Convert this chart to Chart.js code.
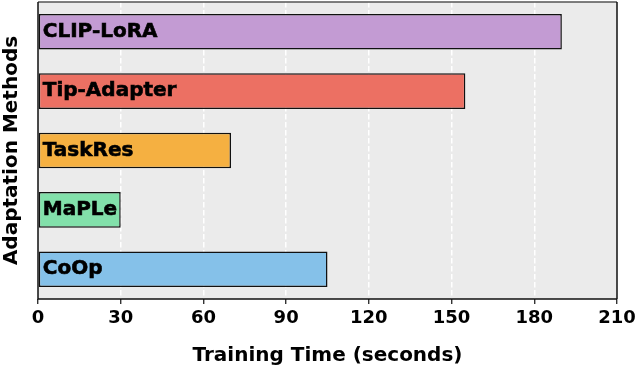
<!DOCTYPE html>
<html>
<head>
<meta charset="utf-8">
<script src="https://cdn.jsdelivr.net/npm/chart.js@4"></script>
<style>
    html, body { margin: 0; padding: 0; background: #fff; }
    #wrap { width: 640px; height: 368px; }
</style>
</head>
<body>
<div id="wrap"><canvas id="timeChart" width="640" height="368"></canvas></div>
<script>
// Data
const methods = ["CLIP-LoRA", "Tip-Adapter", "TaskRes", "MaPLe", "CoOp"];
const trainTimes = [190, 155, 70, 30, 105];
const barColors = ["#C39BD3", "#EC7063", "#F5B041", "#82E0AA", "#85C1E9"];
const xTicks = [0, 30, 60, 90, 120, 150, 180, 210];

const FONT = "'DejaVu Sans', sans-serif";

// Grey panel behind the bars, plus the frame
const panelPlugin = {
    id: "panel",
    beforeDraw(chart) {
        const { ctx, chartArea: a } = chart;
        ctx.save();
        ctx.fillStyle = "#EBEBEB";
        ctx.fillRect(a.left, a.top, a.right - a.left, a.bottom - a.top);
        ctx.restore();
    },
    afterDraw(chart) {
        const { ctx, chartArea: a } = chart;
        ctx.save();
        ctx.lineWidth = 1.5;
        ctx.strokeStyle = "#555";
        ctx.beginPath();
        ctx.moveTo(a.left, a.top);
        ctx.lineTo(a.right, a.top);
        ctx.stroke();
        ctx.strokeStyle = "#111";
        ctx.beginPath();
        ctx.moveTo(a.right, a.top);
        ctx.lineTo(a.right, a.bottom);
        ctx.moveTo(a.left, a.top);
        ctx.lineTo(a.left, a.bottom);
        ctx.lineTo(a.right, a.bottom);
        ctx.stroke();
        ctx.restore();
    }
};

// Method names written inside each bar
const barLabelPlugin = {
    id: "barLabels",
    afterDatasetsDraw(chart) {
        const { ctx } = chart;
        const meta = chart.getDatasetMeta(0);
        ctx.save();
        ctx.font = "bold 20px " + FONT;
        ctx.fillStyle = "#000";
        ctx.strokeStyle = "#000";
        ctx.lineWidth = 0.6;
        ctx.textBaseline = "alphabetic";
        ctx.textAlign = "left";
        meta.data.forEach((bar, i) => {
            ctx.fillText(methods[i], bar.base + 4, bar.y + 5);
            ctx.strokeText(methods[i], bar.base + 4, bar.y + 5);
        });
        ctx.restore();
    }
};

const ctx = document.getElementById("timeChart").getContext("2d");

new Chart(ctx, {
    type: "bar",
    data: {
        labels: methods,
        datasets: [{
            label: "Training Time",
            data: trainTimes,
            backgroundColor: barColors,
            borderColor: "#111",
            borderWidth: 1.5,
            borderSkipped: false,
            barPercentage: 0.6,
            categoryPercentage: 1.0
        }]
    },
    options: {
        indexAxis: "y",
        responsive: false,
        animation: false,
        layout: { padding: { top: 2, right: 23, left: 0, bottom: 0 } },
        plugins: {
            legend: { display: false },
            tooltip: { enabled: false }
        },
        scales: {
            x: {
                min: 0,
                max: 210,
                afterBuildTicks(scale) {
                    scale.ticks = xTicks.map(v => ({ value: v }));
                },
                afterFit(scale) { scale.height = 69; },
                grid: {
                    color: c => (c.tick && c.tick.value > 0 && c.tick.value < 210) ? "#FFFFFF" : "rgba(0,0,0,0)",
                    lineWidth: 1.5,
                    drawTicks: true,
                    tickLength: 5,
                    tickColor: "#111",
                    tickWidth: 1.2,
                    tickBorderDash: []
                },
                border: { display: false, dash: [5.5, 2.5] },
                ticks: {
                    color: "#000",
                    padding: 4,
                    font: { family: FONT, size: 18, weight: "bold" }
                },
                title: {
                    display: true,
                    text: "Training Time (seconds)",
                    color: "#000",
                    padding: { top: 0, bottom: 0 },
                    font: { family: FONT, size: 20, weight: "bold" }
                }
            },
            y: {
                afterFit(scale) { scale.width = 38; },
                grid: { display: false, drawTicks: false },
                border: { display: false },
                ticks: { display: false },
                title: {
                    display: true,
                    text: "Adaptation Methods",
                    color: "#000",
                    padding: { top: 0, bottom: 0 },
                    font: { family: FONT, size: 20, weight: "bold" }
                }
            }
        }
    },
    plugins: [panelPlugin, barLabelPlugin]
});
</script>
</body>
</html>
